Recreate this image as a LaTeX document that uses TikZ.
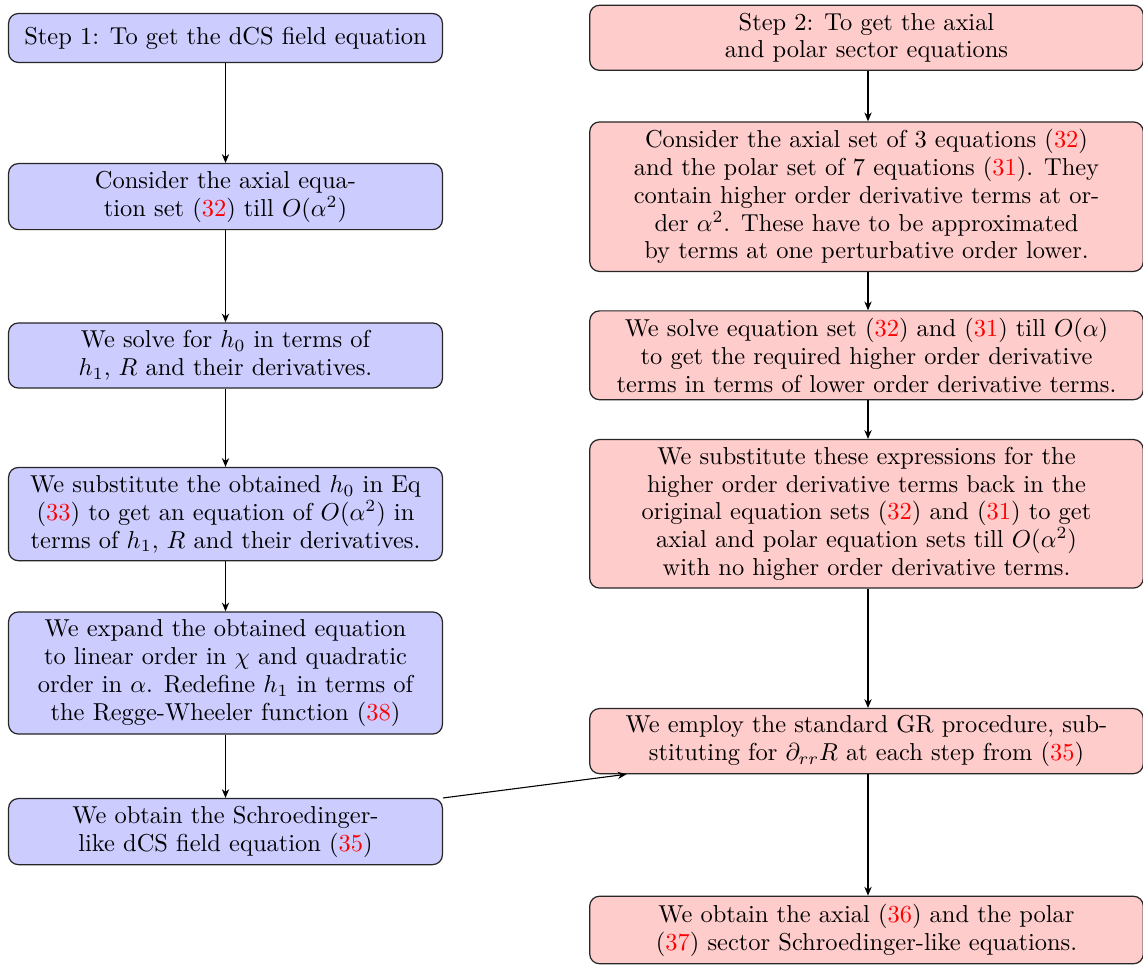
\documentclass[tikz,border=0pt]{standalone}
\usepackage{fontspec}
\usetikzlibrary{arrows.meta,calc}
\newcommand{\eqr}[1]{\textcolor{red}{#1}}
\begin{document}
\begin{tikzpicture}[x=0.408664pt,y=-0.408664pt,
  box/.style={draw=black!85,line width=0.5pt,rounded corners=4pt,align=center,
    font=\fontsize{10}{11.36}\selectfont,inner sep=0pt},
  lbox/.style={box,fill=blue!20,minimum width=177.3pt},
  rbox/.style={box,fill=red!20,minimum width=226.2pt},
  arr/.style={-{Stealth[length=3.6pt,width=3pt]},line width=0.45pt}]
\useasboundingbox (0,0) rectangle (1143,965);
% left column
\node[lbox,minimum height=20.0pt] (L1) at (225.5,38) {Step 1: To get the dCS field equation};
\node[lbox,minimum height=27.0pt] (L2) at (225.5,196.6) {Consider the axial equa-\\tion set (\eqr{32}) till $O(\alpha^2)$};
\node[lbox,minimum height=26.6pt] (L3) at (225.5,355.5) {We solve for $h_0$ in terms of\\$h_1$, $R$ and their derivatives.};
\node[lbox,minimum height=38.1pt] (L4) at (225.5,514.1) {We substitute the obtained $h_0$ in Eq\\(\eqr{33}) to get an equation of $O(\alpha^2)$ in\\terms of $h_1$, $R$ and their derivatives.};
\node[lbox,minimum height=49.9pt] (L5) at (225.5,673) {We expand the obtained equation\\to linear order in $\chi$ and quadratic\\order in $\alpha$. Redefine $h_1$ in terms of\\the Regge-Wheeler function (\eqr{38})};
\node[lbox,minimum height=27.0pt] (L6) at (225.5,831.6) {We obtain the Schroedinger-\\like dCS field equation (\eqr{35})};
% right column
\node[rbox,minimum height=26.6pt] (R1) at (866.5,37.8) {Step 2: To get the axial\\and polar sector equations};
\node[rbox,minimum height=61.1pt] (R2) at (866.5,196.7) {Consider the axial set of 3 equations (\eqr{32})\\and the polar set of 7 equations (\eqr{31}). They\\contain higher order derivative terms at or-\\der $\alpha^2$. These have to be approximated\\by terms at one perturbative order lower.};
\node[rbox,minimum height=36.3pt] (R3) at (866.5,355.3) {We solve equation set (\eqr{32}) and (\eqr{31}) till $O(\alpha)$\\to get the required higher order derivative\\terms in terms of lower order derivative terms.};
\node[rbox,minimum height=60.7pt] (R4) at (866.5,513.8) {We substitute these expressions for the\\higher order derivative terms back in the\\original equation sets (\eqr{32}) and (\eqr{31}) to get\\axial and polar equation sets till $O(\alpha^2)$\\with no higher order derivative terms.};
\node[rbox,minimum height=26.6pt] (R5) at (866.5,741.1) {We employ the standard GR procedure, sub-\\stituting for $\partial_{rr}R$ at each step from (\eqr{35})};
\node[rbox,minimum height=27.6pt] (R6) at (866.5,930) {We obtain the axial (\eqr{36}) and the polar\\(\eqr{37}) sector Schroedinger-like equations.};
% connectors
\coordinate (RX) at (868,0);
\draw[arr] (L1) -- (L2);
\draw[arr] (L2) -- (L3);
\draw[arr] (L3) -- (L4);
\draw[arr] (L4) -- (L5);
\draw[arr] (L5) -- (L6);
\draw[arr] (R1.south -| RX) -- (R2.north -| RX);
\draw[arr] (R2.south -| RX) -- (R3.north -| RX);
\draw[arr] (R3.south -| RX) -- (R4.north -| RX);
\draw[arr] (R4.south -| RX) -- (R5.north -| RX);
\draw[arr] (R5.south -| RX) -- (R6.north -| RX);
\coordinate (E) at ($(R5.south west)+(37.4,0)$);
\draw[arr] (L6.north east) -- (E);
\end{tikzpicture}
\end{document}
